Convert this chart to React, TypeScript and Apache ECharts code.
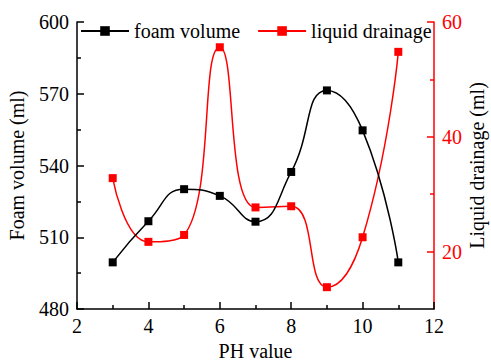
import React, { useEffect, useRef } from "react";
import * as echarts from "echarts";

const phValues = [3, 4, 5, 6, 7, 8, 9, 10, 11];
const foamVolume = [499.5, 516.7, 530.1, 527.3, 516.5, 537.3, 571.4, 554.7, 499.5];
const liquidDrainage = [32.8, 21.7, 22.9, 55.6, 27.7, 27.9, 13.8, 22.5, 54.8];

const FONT = "Liberation Serif";

export default function App() {
  const ref = useRef<HTMLDivElement>(null);

  useEffect(() => {
    if (!ref.current) return;
    const chart = echarts.init(ref.current, null, { renderer: "svg" });
    const foamData = phValues.map((x, i) => [x, foamVolume[i]]);
    const drainData = phValues.map((x, i) => [x, liquidDrainage[i]]);

    chart.setOption({
      animation: false,
      textStyle: { fontFamily: FONT },
      grid: { left: 77, right: 57, top: 22, bottom: 53, outerBoundsMode: "none", containLabel: false },
      legend: {
        left: 75,
        top: 16,
        itemWidth: 48,
        itemHeight: 12,
        itemGap: 17,
        textStyle: { fontFamily: FONT, fontSize: 20, color: "#000" },
        data: ["foam volume", "liquid drainage"],
      },
      xAxis: {
        type: "value",
        min: 2,
        max: 12,
        interval: 2,
        name: "PH value",
        nameLocation: "middle",
        nameGap: 32,
        nameTextStyle: { fontFamily: FONT, fontSize: 20, color: "#000" },
        axisLine: { lineStyle: { color: "#000", width: 1.5 } },
        axisTick: { inside: true, length: 7, lineStyle: { color: "#000", width: 1.5 } },
        minorTick: { show: true, splitNumber: 2, length: 4, lineStyle: { color: "#000", width: 1.5 } },
        axisLabel: { fontFamily: FONT, fontSize: 20, color: "#000", margin: 7 },
        splitLine: { show: false },
      },
      yAxis: [
        {
          type: "value",
          position: "left",
          min: 480,
          max: 600,
          interval: 30,
          name: "Foam volume (ml)",
          nameLocation: "middle",
          nameGap: 50,
          nameTextStyle: { fontFamily: FONT, fontSize: 20, color: "#000" },
          axisLine: { show: true, lineStyle: { color: "#000", width: 1.5 } },
          axisTick: { show: true, inside: true, length: 7, lineStyle: { color: "#000", width: 1.5 } },
          minorTick: { show: true, splitNumber: 2, length: 4, lineStyle: { color: "#000", width: 1.5 } },
          axisLabel: { fontFamily: FONT, fontSize: 20, color: "#000", margin: 8 },
          splitLine: { show: false },
        },
        {
          type: "value",
          position: "right",
          min: 10,
          max: 60,
          interval: 10,
          name: "Liquid drainage (ml)",
          nameLocation: "middle",
          nameGap: 33,
          nameMoveOverlap: false,
          nameTextStyle: { fontFamily: FONT, fontSize: 20, color: "#000" },
          axisLine: { show: true, lineStyle: { color: "#ff0000", width: 1.5 } },
          axisTick: {
            show: true,
            inside: true,
            length: 7,
            customValues: [20, 40, 60],
            lineStyle: { color: "#ff0000", width: 1.5 },
          },
          axisLabel: {
            fontFamily: FONT,
            fontSize: 20,
            color: "#ff0000",
            margin: 8,
            customValues: [20, 40, 60],
          },
          splitLine: { show: false },
        },
        {
          type: "value",
          position: "right",
          min: 10,
          max: 60,
          interval: 10,
          axisLine: { show: false },
          axisTick: {
            show: true,
            inside: true,
            length: 4,
            customValues: [30, 50],
            lineStyle: { color: "#ff0000", width: 1.5 },
          },
          axisLabel: { show: false },
          splitLine: { show: false },
        },
      ],
      series: [
        {
          name: "liquid drainage",
          type: "line",
          yAxisIndex: 1,
          data: drainData,
          smooth: 0.5,
          symbol: "rect",
          symbolSize: 8,
          color: "#ff0000",
          lineStyle: { color: "#ff0000", width: 1.5 },
          itemStyle: { color: "#ff0000" },
          z: 2,
        },
        {
          name: "foam volume",
          type: "line",
          yAxisIndex: 0,
          data: foamData,
          smooth: 0.5,
          symbol: "rect",
          symbolSize: 8,
          color: "#000",
          lineStyle: { color: "#000", width: 1.5 },
          itemStyle: { color: "#000" },
          z: 3,
        },
      ],
    });

    return () => chart.dispose();
  }, []);

  return <div ref={ref} style={{ width: 491, height: 362, position: "absolute", left: 0, top: 0 }} />;
}
